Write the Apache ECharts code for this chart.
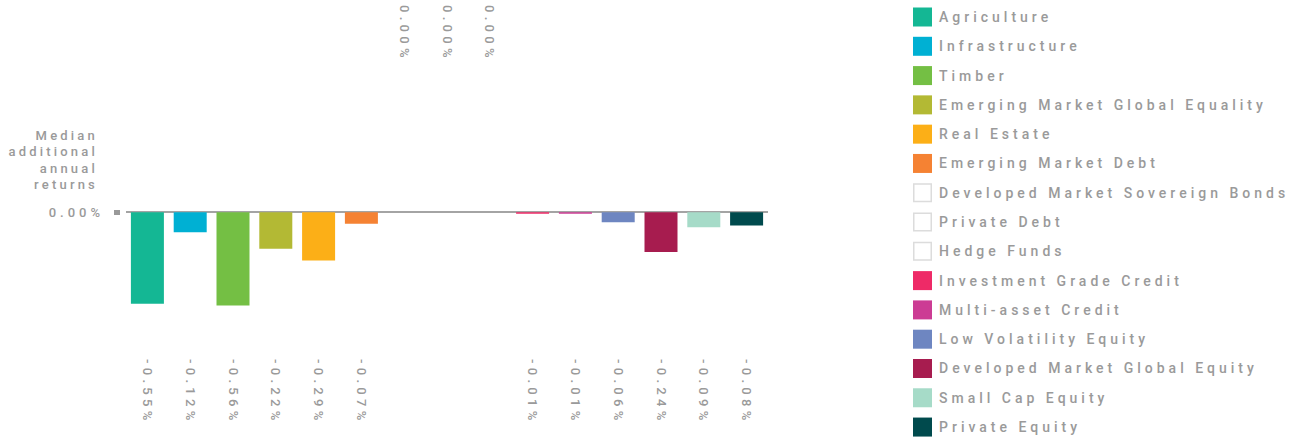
<!DOCTYPE html>
<html>
<head>
<meta charset="utf-8">
<script src="https://cdn.jsdelivr.net/npm/echarts@6/dist/echarts.min.js"></script>
<style>
    html, body { margin: 0; padding: 0; background: #fff; }
    #chart { width: 1301px; height: 441px; }
    /* wide tracking like the original */
    #chart text { letter-spacing: 4px; }
    #chart text[style*="13.01px"] { letter-spacing: 3.2px; }
    #chart text[style*="13.02px"] { letter-spacing: 4.3px; }
</style>
</head>
<body>
<div id="chart"></div>
<script>
    // asset classes, in the order of the bars
    const categories = [
        'Agriculture', 'Infrastructure', 'Timber', 'Emerging Market Global Equality',
        'Real Estate', 'Emerging Market Debt', 'Developed Market Sovereign Bonds',
        'Private Debt', 'Hedge Funds', 'Investment Grade Credit', 'Multi-asset Credit',
        'Low Volatility Equity', 'Developed Market Global Equity', 'Small Cap Equity',
        'Private Equity'
    ];
    // median additional annual returns, in %
    const returns = [-0.55, -0.12, -0.56, -0.22, -0.29, -0.07, 0, 0, 0, -0.01, -0.01, -0.06, -0.24, -0.09, -0.08];
    const colors = [
        '#14b794', '#00b0d3', '#74bf44', '#b3b934', '#fcaf17', '#f58233',
        '#ffffff', '#ffffff', '#ffffff', '#ee2a67', '#cc3c94', '#6e86c1',
        '#a71c4f', '#a6dbc8', '#004a4d'
    ];
    const yTicks = [0];

    const grey = '#9a9a9a';
    const font = 'Roboto, "Noto Sans", sans-serif';
    const fmt = v => v.toFixed(2) + '%';
    // outlined square for the white (no colour) entries, keeps item height at 19
    const hollowBox = 'path://M0,0H19V19H0Z M1.5,1.5V17.5H17.5V1.5Z';

    const chart = echarts.init(document.getElementById('chart'), null, {renderer: 'svg'});

    const series = categories.map((name, i) => ({
        name: name,
        type: 'bar',
        stack: 'all',
        barWidth: 33,
        data: returns.map((v, j) => j === i ? v : '-'),
        itemStyle: {color: colors[i]}
    }));

    const legendData = categories.map((name, i) => colors[i] === '#ffffff'
        ? {name: name, icon: hollowBox, itemStyle: {color: '#dcdcdc'}}
        : {name: name});

    const option = {
        animation: false,
        textStyle: {fontFamily: font, fontWeight: 500},
        grid: {left: 126, right: 533, top: 64, bottom: 89, containLabel: false},
        legend: {
            orient: 'vertical',
            left: 913,
            top: 7.5,
            height: 433,
            padding: 0,
            icon: 'rect',
            itemWidth: 19,
            itemHeight: 19,
            itemGap: 10.29,
            textStyle: {
                color: grey, fontSize: 14, fontWeight: 500, fontFamily: font,
                lineHeight: 19, padding: [0, 0, 0, 2]
            },
            data: legendData
        },
        graphic: [{
            type: 'text',
            x: 98,
            y: 127,
            style: {
                text: 'Median\nadditional\nannual\nreturns',
                align: 'right',
                fill: grey,
                font: '500 13.01px ' + font,
                lineHeight: 16.5
            }
        }],
        xAxis: [
            {
                type: 'category',
                position: 'bottom',
                data: categories,
                axisLine: {show: false, onZero: false},
                axisTick: {show: false},
                axisLabel: {
                    interval: 0,
                    rotate: -90,
                    margin: 7,
                    color: grey,
                    fontSize: 13.02,
                    formatter: (v, i) => returns[i] < 0 ? fmt(returns[i]) : ''
                }
            },
            {
                type: 'category',
                position: 'top',
                offset: 59,
                data: categories,
                axisLine: {show: false, onZero: false},
                axisTick: {show: false},
                axisLabel: {
                    interval: 0,
                    inside: true,
                    rotate: 90,
                    margin: 0,
                    color: grey,
                    fontSize: 13.02,
                    formatter: (v, i) => returns[i] === 0 ? fmt(returns[i]) : ''
                }
            }
        ],
        yAxis: {
            type: 'value',
            min: -0.84,
            max: 0.89,
            offset: 6,
            axisLine: {show: false},
            splitLine: {
                show: true,
                lineStyle: {color: '#a4a4a4', width: 1.8}
            },
            axisTick: {
                show: true,
                length: 6,
                customValues: yTicks,
                lineStyle: {color: '#999', width: 5}
            },
            axisLabel: {
                margin: 16,
                color: grey,
                fontSize: 13,
                customValues: yTicks,
                formatter: v => fmt(v)
            }
        },
        series: series
    };

    chart.setOption(option);
</script>
</body>
</html>
